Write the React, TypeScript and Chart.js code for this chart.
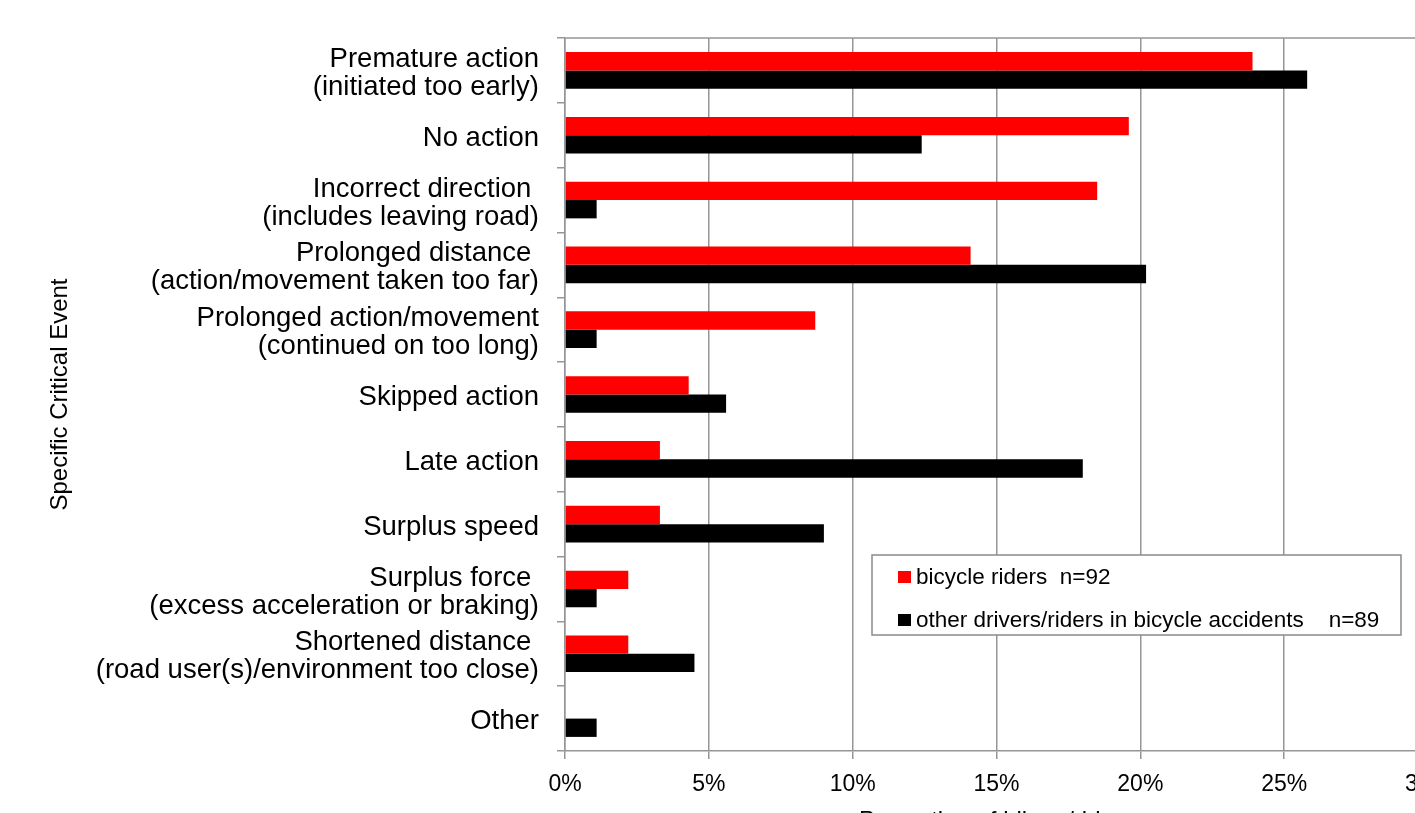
import React, { useEffect, useRef } from "react";
import { Chart, registerables } from "chart.js";

Chart.register(...registerables);

const categories: (string | string[])[] = [
  ["Premature action", "(initiated too early)"],
  "No action",
  ["Incorrect direction ", "(includes leaving road)"],
  ["Prolonged distance ", "(action/movement taken too far)"],
  ["Prolonged action/movement", "(continued on too long)"],
  "Skipped action",
  "Late action",
  "Surplus speed",
  ["Surplus force ", "(excess acceleration or braking)"],
  ["Shortened distance ", "(road user(s)/environment too close)"],
  "Other",
];

const bicycleRiders = [23.9, 19.6, 18.5, 14.1, 8.7, 4.3, 3.3, 3.3, 2.2, 2.2, 0];
const otherDrivers = [25.8, 12.4, 1.1, 20.2, 1.1, 5.6, 18.0, 9.0, 1.1, 4.5, 1.1];

const seriesLabels = ["bicycle riders  n=92", "other drivers/riders in bicycle accidents    n=89"];
const seriesColors = ["#ff0000", "#000000"];

const xTitle = "Proportion of bikers/riders";
const yTitle = "Specific Critical Event";

const FONT = "'Liberation Sans', Arial, sans-serif";
const GRID = "#969696";

const topBorderPlugin = {
  id: "topBorder",
  afterDatasetsDraw(chart: any) {
    const { ctx, chartArea } = chart;
    ctx.save();
    ctx.strokeStyle = GRID;
    ctx.lineWidth = 1.5;
    ctx.beginPath();
    ctx.moveTo(chartArea.left, chartArea.top);
    ctx.lineTo(chartArea.right, chartArea.top);
    ctx.stroke();
    ctx.restore();
  },
};

const boxLegendPlugin = {
  id: "boxLegend",
  afterDraw(chart: any) {
    const { ctx, chartArea } = chart;
    const left = chartArea.left + 307;
    const top = chartArea.top + 517;
    const w = 529;
    const h = 80;
    ctx.save();
    ctx.fillStyle = "#ffffff";
    ctx.fillRect(left, top, w, h);
    ctx.strokeStyle = "#8a8a8a";
    ctx.lineWidth = 1.5;
    ctx.strokeRect(left, top, w, h);
    ctx.font = `22.5px ${FONT}`;
    ctx.textBaseline = "middle";
    ctx.textAlign = "left";
    chart.data.datasets.forEach((ds: any, i: number) => {
      const cy = top + 22 + i * 43;
      ctx.fillStyle = ds.backgroundColor;
      ctx.fillRect(left + 26, cy - 6, 13, 12);
      ctx.fillStyle = "#000";
      ctx.fillText(ds.label, left + 44, cy + 1);
    });
    ctx.restore();
  },
};

export default function App() {
  const ref = useRef<HTMLCanvasElement | null>(null);

  useEffect(() => {
    if (!ref.current) return;
    const chart = new Chart(ref.current, {
      type: "bar",
      data: {
        labels: categories,
        datasets: [
          {
            label: seriesLabels[0],
            data: bicycleRiders,
            backgroundColor: seriesColors[0],
            categoryPercentage: 0.565,
            barPercentage: 1,
          },
          {
            label: seriesLabels[1],
            data: otherDrivers,
            backgroundColor: seriesColors[1],
            categoryPercentage: 0.565,
            barPercentage: 1,
          },
        ],
      },
      options: {
        indexAxis: "y",
        responsive: false,
        animation: false,
        devicePixelRatio: 1,
        layout: { padding: { top: 38, right: 30, bottom: 0, left: 0 } },
        plugins: {
          legend: { display: false },
          tooltip: { enabled: false },
        },
        scales: {
          x: {
            min: 0,
            max: 30,
            ticks: {
              stepSize: 5,
              callback: (v: any) => v + "%",
              color: "#000",
              padding: 12,
              font: { family: FONT, size: 23 },
              maxRotation: 0,
            },
            grid: {
              color: GRID,
              lineWidth: 1.5,
              tickLength: 8,
              tickColor: GRID,
            },
            border: { color: GRID, width: 1.5 },
            title: {
              display: true,
              text: xTitle,
              color: "#000",
              font: { family: FONT, size: 24 },
              padding: { top: 0, bottom: 14 },
            },
            afterFit: (s: any) => {
              s.height = 99;
            },
          },
          y: {
            offset: true,
            ticks: {
              color: "#000",
              padding: 18,
              labelOffset: 3,
              font: { family: FONT, size: 27.5, lineHeight: 1.02 },
              autoSkip: false,
            },
            grid: {
              offset: true,
              drawOnChartArea: false,
              color: GRID,
              lineWidth: 1.5,
              tickLength: 8,
            },
            border: { color: GRID, width: 1.5 },
            title: {
              display: true,
              text: yTitle,
              color: "#000",
              font: { family: FONT, size: 24 },
              padding: { top: 46, bottom: 0 },
            },
            afterFit: (s: any) => {
              s.width = 565;
            },
          },
        },
      },
      plugins: [topBorderPlugin, boxLegendPlugin],
    } as any);
    return () => chart.destroy();
  }, []);

  return (
    <div
      style={{
        position: "fixed",
        left: 0,
        top: 0,
        width: 1415,
        height: 813,
        overflow: "hidden",
        background: "#fff",
      }}
    >
      <canvas ref={ref} width={1463} height={850} style={{ display: "block", width: 1463, height: 850 }} />
    </div>
  );
}
